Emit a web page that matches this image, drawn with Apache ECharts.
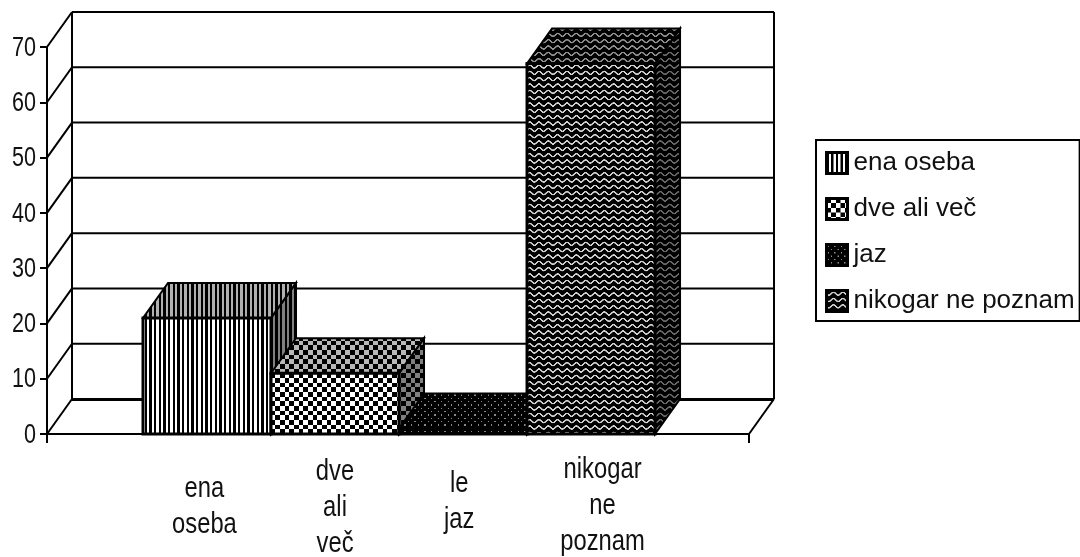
<!DOCTYPE html>
<html><head><meta charset="utf-8">
<style>html,body{margin:0;padding:0;background:#fff}#c{width:1080px;height:557px}</style>
<script src="https://cdn.jsdelivr.net/npm/echarts@6/dist/echarts.min.js"></script>
</head><body><div id="c"></div>
<script>
var categories = ['ena\noseba', 'dve\nali\nveč', 'le\njaz', 'nikogar\nne\npoznam'];
var seriesNames = ['ena oseba', 'dve ali več', 'jaz', 'nikogar ne poznam'];
var values = [21, 11, 1, 67];
var yTicks = [0, 10, 20, 30, 40, 50, 60, 70];

// layout only
var labelX = [0.48, 1.5, 2.47, 3.59];
var labelMidY = [507, 508, 502, 506];

var FONT = '"Liberation Sans",Arial,sans-serif';
var DX = 25, DY = -35;
var X_MIN = -0.75, X_MAX = 4.734;

function tile(w, h, draw) {
  var c = document.createElement('canvas');
  c.width = w; c.height = h;
  draw(c.getContext('2d'), w, h);
  return { image: c, repeat: 'repeat', scaleX: 1 / 3, scaleY: 1 / 3 };
}
function stripes(bg) { return tile(14, 14, function (g) {
  g.fillStyle = bg; g.fillRect(0, 0, 14, 14);
  g.fillStyle = '#000'; g.fillRect(0, 0, 7, 14);
}); }
function checks(bg) { return tile(28, 28, function (g) {
  g.fillStyle = bg; g.fillRect(0, 0, 28, 28);
  g.fillStyle = '#000'; g.fillRect(0, 0, 14, 14); g.fillRect(14, 14, 14, 14);
}); }
function dots(fg) { return tile(20, 20, function (g) {
  g.fillStyle = '#000'; g.fillRect(0, 0, 20, 20);
  g.fillStyle = fg;
  g.fillRect(3, 3, 4, 4); g.fillRect(13, 13, 4, 4);
}); }
function waves(fg) { return tile(28, 19, function (g) {
  g.fillStyle = '#000'; g.fillRect(0, 0, 28, 19);
  g.strokeStyle = fg; g.lineWidth = 4.5;
  g.beginPath();
  for (var x = -2; x <= 30; x++) {
    var y = 9.5 + 4.5 * Math.sin(x / 28 * 2 * Math.PI);
    if (x === -2) g.moveTo(x, y); else g.lineTo(x, y);
  }
  g.stroke();
}); }
var patterns = [
  { front: stripes('#fff'), top: stripes('#b0b0b0'), side: stripes('#808080') },
  { front: checks('#fff'), top: checks('#b8b8b8'), side: checks('#808080') },
  { front: dots('#8a8a8a'), top: dots('#8a8a8a'), side: dots('#555') },
  { front: waves('#d0d0d0'), top: waves('#909090'), side: waves('#686868') }
];

function poly(points, fill, w) {
  return { type: 'polygon', shape: { points: points },
    style: { fill: fill, stroke: '#000', lineWidth: w, lineJoin: 'miter' } };
}
function seg(a, b, w) {
  return { type: 'line', shape: { x1: a[0], y1: a[1], x2: b[0], y2: b[1] },
    style: { stroke: '#000', lineWidth: w, fill: null } };
}
function narrowText(text, x, y, size, sx, align, lh) {
  return { type: 'text', x: x, y: y, scaleX: sx,
    style: { text: text, font: size + 'px ' + FONT, fill: '#111',
      align: align, verticalAlign: 'middle', lineHeight: lh } };
}
function renderWall(params, api) {
  var v = api.value(0);
  var l = api.coord([X_MIN, v]), r = api.coord([X_MAX, v]);
  var lb = [l[0] + DX, l[1] + DY], rb = [r[0] + DX, r[1] + DY];
  var kids = [seg(l, lb, 2), seg(lb, rb, 2),
    narrowText(String(v), l[0] - 11, l[1] + 1, 28, 0.77, 'right', 30)];
  if (v === 0) {
    kids.push(seg(r, rb, 2));
    kids.push(seg([lb[0], lb[1] + 0.5], [rb[0], rb[1] + 0.5], 3));
  }
  if (v === 70) {
    var b0 = api.coord([X_MIN, 0]), b1 = api.coord([X_MAX, 0]);
    kids.push(seg(lb, [b0[0] + DX, b0[1] + DY], 2));
    kids.push(seg(rb, [b1[0] + DX, b1[1] + DY], 2));
  }
  return { type: 'group', children: kids };
}
function renderBar(idx) {
  return function (params, api) {
    var x = api.value(0), v = api.value(1);
    var a = api.coord([x, 0]), b = api.coord([x + 1, v]);
    var x0 = a[0], x1 = b[0], y0 = a[1], y1 = b[1];
    var p = patterns[idx];
    var mid = api.coord([labelX[idx], 0]);
    return { type: 'group', children: [
      poly([[x1, y0], [x1 + DX, y0 + DY], [x1 + DX, y1 + DY], [x1, y1]], p.side, 2),
      poly([[x0, y1], [x1, y1], [x1 + DX, y1 + DY], [x0 + DX, y1 + DY]], p.top, 2),
      poly([[x0, y0], [x1, y0], [x1, y1], [x0, y1]], p.front, 3),
      narrowText(categories[idx], mid[0], labelMidY[idx], 29, 0.82, 'center', 36)
    ] };
  };
}

var series = [{
  type: 'custom', name: 'walls', silent: true, animation: false, z: 1,
  coordinateSystem: 'cartesian2d', clip: false,
  data: yTicks.map(function (t) { return [t]; }),
  encode: { y: 0 },
  renderItem: renderWall
}];
seriesNames.forEach(function (name, i) {
  series.push({
    type: 'custom', name: name, animation: false, z: 2 + i, clip: false,
    coordinateSystem: 'cartesian2d',
    itemStyle: { color: patterns[i].front },
    data: [[i, values[i]]],
    encode: { x: 0, y: 1 },
    renderItem: renderBar(i)
  });
});

var chart = echarts.init(document.getElementById('c'), null, { renderer: 'canvas' });
chart.setOption({
  animation: false,
  backgroundColor: '#fff',
  grid: { left: 47, top: 47, width: 702, height: 387, containLabel: false, outerBoundsMode: 'none' },
  xAxis: {
    type: 'value', min: X_MIN, max: X_MAX, splitLine: { show: false },
    axisLine: { show: true, onZero: false, lineStyle: { color: '#000', width: 2 } },
    axisTick: { show: true, customValues: [X_MIN, X_MAX], length: 9, lineStyle: { color: '#000', width: 2 } },
    axisLabel: { show: false }
  },
  yAxis: {
    type: 'value', min: 0, max: 70, interval: 10, splitLine: { show: false },
    axisLine: { show: true, onZero: false, lineStyle: { color: '#000', width: 2 } },
    axisTick: { show: true, length: 7, lineStyle: { color: '#000', width: 2 } },
    axisLabel: { show: false }
  },
  legend: {
    show: true, orient: 'vertical', left: 816, top: 140,
    padding: [10, 5, 7, 9], borderColor: '#000', borderWidth: 2, backgroundColor: '#fff',
    itemWidth: 21, itemHeight: 21, itemGap: 20,
    textStyle: { fontFamily: FONT, fontSize: 26, color: '#111', padding: [0, 0, 0, 1] },
    selectedMode: false,
    data: seriesNames.map(function (n, i) {
      return { name: n, icon: 'rect', itemStyle: { color: patterns[i].front, borderColor: '#000', borderWidth: 3 } };
    })
  },
  series: series
});
</script></body></html>
